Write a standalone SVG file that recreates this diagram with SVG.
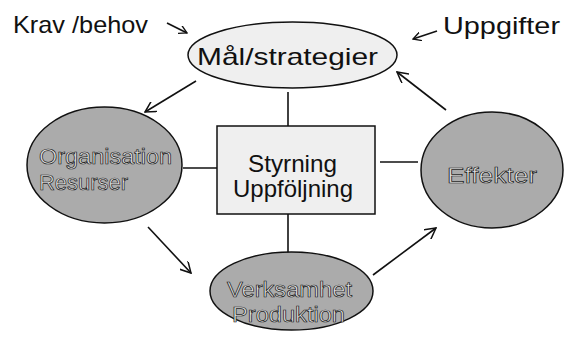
<svg xmlns="http://www.w3.org/2000/svg" width="569" height="337" viewBox="0 0 569 337">
<defs>
<style>
.t{font-family:"Comic Sans MS","Liberation Sans","DejaVu Sans",sans-serif;font-size:24px;fill:#111}
.o{font-family:"Comic Sans MS","Liberation Sans","DejaVu Sans",sans-serif;font-size:22px;fill:#e4e4e4;stroke:#1a1a1a;stroke-width:0.7}
.dark{fill:#ababab;stroke:#111;stroke-width:1.5}
.light{fill:#efefef;stroke:#111;stroke-width:1.5}
.c{stroke:#111;stroke-width:1.6;fill:none}
</style>
<marker id="ah" viewBox="0 0 12 12" refX="11" refY="6" markerWidth="12" markerHeight="12" markerUnits="userSpaceOnUse" orient="auto">
<path d="M0,0 L11,6 L0,12" fill="none" stroke="#111" stroke-width="1.5"/>
</marker>
<marker id="ahs" viewBox="0 0 10 10" refX="9" refY="5" markerWidth="9" markerHeight="9" markerUnits="userSpaceOnUse" orient="auto">
<path d="M0,0 L9,5 L0,10" fill="none" stroke="#111" stroke-width="1.5"/>
</marker>
</defs>
<rect width="569" height="337" fill="#fff"/>
<g id="connectors">
<line class="c" x1="167" y1="23" x2="187" y2="33" marker-end="url(#ahs)"/>
<line class="c" x1="437" y1="31" x2="413" y2="39" marker-end="url(#ahs)"/>
<line class="c" x1="196" y1="81" x2="145" y2="112" marker-end="url(#ah)"/>
<line class="c" x1="446" y1="110" x2="397" y2="72" marker-end="url(#ah)"/>
<line class="c" x1="288" y1="92" x2="288" y2="126"/>
<line class="c" x1="183" y1="168" x2="217" y2="168"/>
<line class="c" x1="380" y1="162" x2="418" y2="162"/>
<line class="c" x1="288" y1="214" x2="288" y2="253"/>
<line class="c" x1="148" y1="227" x2="191" y2="273" marker-end="url(#ah)"/>
<line class="c" x1="373" y1="275" x2="436" y2="228" marker-end="url(#ah)"/>
</g>
<g id="krav"><text class="t" x="13" y="33" textLength="135" lengthAdjust="spacingAndGlyphs">Krav /behov</text></g>
<g id="uppgifter"><text class="t" x="443" y="34" textLength="117" lengthAdjust="spacingAndGlyphs">Uppgifter</text></g>
<g id="mal">
<ellipse class="light" cx="292.5" cy="55" rx="104.5" ry="33"/>
<text class="t" x="197" y="65" font-size="25" textLength="181" lengthAdjust="spacingAndGlyphs">Mål/strategier</text>
</g>
<g id="organisation">
<ellipse class="dark" cx="104.5" cy="165" rx="77.5" ry="58"/>
<text class="o" x="39" y="164" textLength="133" lengthAdjust="spacingAndGlyphs">Organisation</text>
<text class="o" x="39" y="190" textLength="89" lengthAdjust="spacingAndGlyphs">Resurser</text>
</g>
<g id="styrning">
<rect class="light" x="217" y="126" width="158" height="88"/>
<text class="t" x="248" y="172" font-size="20" textLength="89" lengthAdjust="spacingAndGlyphs">Styrning</text>
<text class="t" x="233" y="197" font-size="20" textLength="120" lengthAdjust="spacingAndGlyphs">Uppföljning</text>
</g>
<g id="effekter">
<ellipse class="dark" cx="492" cy="170" rx="71" ry="58"/>
<text class="o" x="447" y="183" textLength="90" lengthAdjust="spacingAndGlyphs">Effekter</text>
</g>
<g id="verksamhet">
<ellipse class="dark" cx="291.5" cy="291" rx="81.5" ry="39"/>
<text class="o" x="227" y="297" font-size="21" textLength="125" lengthAdjust="spacingAndGlyphs">Verksamhet</text>
<text class="o" x="232" y="322" font-size="21" textLength="113" lengthAdjust="spacingAndGlyphs">Produktion</text>
</g>
</svg>
